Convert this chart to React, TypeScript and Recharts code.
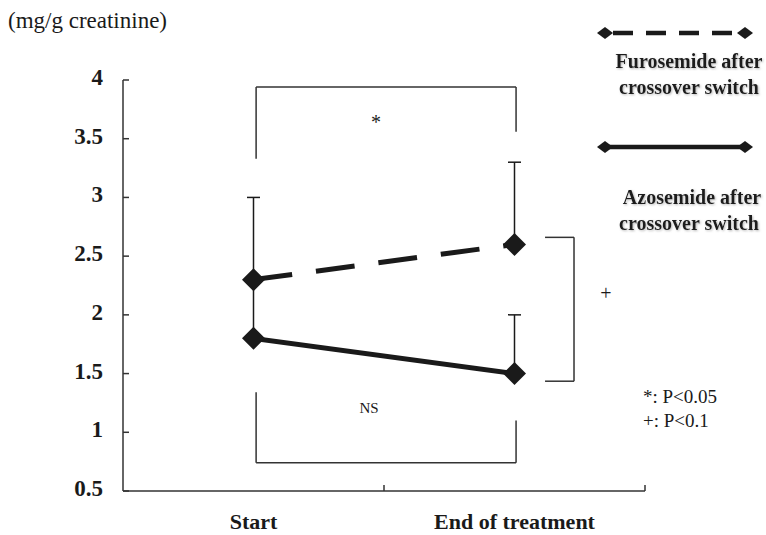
import React from 'react';
import { LineChart, Line, XAxis, YAxis, ErrorBar, ReferenceLine } from 'recharts';

// ---- data ----
const categories = ['Start', 'End of treatment'];
const furosemide = [2.3, 2.6];
const furosemideErr = [[0, 0.7], [0, 0.7]];
const azosemide = [1.8, 1.5];
const azosemideErr = [[0, 0.5], [0, 0.5]];
const yTicks = [0.5, 1, 1.5, 2, 2.5, 3, 3.5, 4];
const seriesNames = ['Furosemide after crossover switch', 'Azosemide after crossover switch'];
const unitLabel = '(mg/g creatinine)';
const pNotes = ['*: P<0.05', '+: P<0.1'];

// significance brackets in data units (x: category index space, 0..2)
const topBracket = [[0.51, 3.33], [0.51, 3.94], [1.506, 3.94], [1.506, 3.56]];
const bottomBracket = [[0.51, 1.34], [0.51, 0.74], [1.506, 0.74], [1.506, 1.1]];
const rightBracket = [[1.617, 2.66], [1.728, 2.66], [1.728, 1.435], [1.617, 1.435]];

// each category sits at the centre of its slot
const data = categories.map((c, i) => ({
  pos: i + 0.5,
  cat: c,
  furo: furosemide[i],
  furoErr: furosemideErr[i],
  azo: azosemide[i],
  azoErr: azosemideErr[i],
}));
const xTicks = data.map((d) => d.pos);

const W = 766;
const H = 535;
const X_H = 44;
const MARGIN = { top: 80, right: 121, bottom: 0, left: 0 };
const Y_W = 123;
const PLOT_W = W - MARGIN.left - MARGIN.right - Y_W;
const HALF_BAND = PLOT_W / categories.length / 2;
const SERIF = '"Liberation Serif", "Times New Roman", serif';
const INK = '#1a1a1a';
const AXIS = '#333';

const Diamond = (props: any) => {
  const { cx, cy } = props;
  if (cx == null || cy == null) return null;
  const r = 11.5;
  return (
    <polygon
      points={`${cx},${cy - r} ${cx + r},${cy} ${cx},${cy + r} ${cx - r},${cy}`}
      fill={INK}
    />
  );
};

const YTick = (props: any) => {
  const { x, y, payload } = props;
  return (
    <g>
      <line x1={x} x2={x + 6} y1={y} y2={y} stroke={AXIS} strokeWidth={1.5} />
      <text x={x - 20} y={y} dy={5} textAnchor="end" fontFamily={SERIF} fontWeight="bold" fontSize={23} fill={INK}>
        {payload.value}
      </text>
    </g>
  );
};

const XTick = (props: any) => {
  const { x, y, payload } = props;
  const label = categories[Math.round(payload.value - 0.5)];
  return (
    <g>
      <line x1={x + HALF_BAND} x2={x + HALF_BAND} y1={y} y2={y - 6} stroke={AXIS} strokeWidth={1.5} />
      <text x={x} y={y + 38} textAnchor="middle" fontFamily={SERIF} fontWeight="bold" fontSize={22} fill={INK}>
        {label}
      </text>
    </g>
  );
};

const bracketSegments = (pts: number[][], key: string) =>
  pts.slice(0, -1).map((p, i) => (
    <ReferenceLine
      key={`${key}-${i}`}
      segment={[{ x: p[0], y: p[1] }, { x: pts[i + 1][0], y: pts[i + 1][1] }]}
      stroke={AXIS}
      strokeWidth={1.5}
      ifOverflow="visible"
    />
  ));

const splitName = (n: string) => {
  const k = n.indexOf(' crossover');
  return [n.slice(0, k), n.slice(k + 1)];
};

const LegendDiamond = ({ cx, cy }: { cx: number; cy: number }) => (
  <polygon points={`${cx},${cy - 6} ${cx + 8},${cy} ${cx},${cy + 6} ${cx - 8},${cy}`} fill={INK} />
);

export default function App() {
  const furoLines = splitName(seriesNames[0]);
  const azoLines = splitName(seriesNames[1]);
  return (
    <div style={{ position: 'absolute', left: 0, top: 0, width: W, height: H, background: '#fff' }}>
      <LineChart width={W} height={H} data={data} margin={MARGIN}>
        <XAxis
          dataKey="pos"
          type="number"
          domain={[0, categories.length]}
          ticks={xTicks}
          interval={0}
          allowDataOverflow
          height={X_H}
          tickSize={0}
          tickMargin={0}
          tickLine={false}
          tick={<XTick />}
          axisLine={{ stroke: AXIS, strokeWidth: 1.5 }}
        />
        <YAxis
          type="number"
          domain={[0.5, 4]}
          ticks={yTicks}
          interval={0}
          width={Y_W}
          tickSize={0}
          tickMargin={0}
          tickLine={false}
          tick={<YTick />}
          axisLine={{ stroke: AXIS, strokeWidth: 1.5 }}
          allowDataOverflow
        />
        {bracketSegments(topBracket, 'top')}
        {bracketSegments(bottomBracket, 'bottom')}
        {bracketSegments(rightBracket, 'right')}
        <Line
          dataKey="furo"
          name={seriesNames[0]}
          stroke={INK}
          strokeWidth={5}
          strokeDasharray="39 24"
          dot={<Diamond />}
          isAnimationActive={false}
        >
          <ErrorBar dataKey="furoErr" direction="y" width={6.5} stroke={INK} strokeWidth={1.5} />
        </Line>
        <Line
          dataKey="azo"
          name={seriesNames[1]}
          stroke={INK}
          strokeWidth={5}
          dot={<Diamond />}
          isAnimationActive={false}
        >
          <ErrorBar dataKey="azoErr" direction="y" width={6.5} stroke={INK} strokeWidth={1.5} />
        </Line>
      </LineChart>
      <svg
        width={W}
        height={H}
        style={{ position: 'absolute', left: 0, top: 0, pointerEvents: 'none' }}
      >
        <defs>
          <filter id="soft" x="-10%" y="-30%" width="120%" height="160%">
            <feDropShadow dx="1" dy="1" stdDeviation="1" floodColor="#888" floodOpacity="0.6" />
          </filter>
        </defs>
        <text x={8} y={28} fontFamily={SERIF} fontSize={23} fill={INK}>{unitLabel}</text>
        <text x={376} y={129} textAnchor="middle" fontFamily={SERIF} fontSize={20} fill={INK}>*</text>
        <text x={369} y={413} textAnchor="middle" fontFamily={SERIF} fontSize={15} fill={INK}>NS</text>
        <text x={606} y={300} textAnchor="middle" fontFamily={SERIF} fontSize={20} fill={INK}>+</text>
        <text x={643} y={403} fontFamily={SERIF} fontSize={19} fill={INK}>{pNotes[0]}</text>
        <text x={643} y={427} fontFamily={SERIF} fontSize={19} fill={INK}>{pNotes[1]}</text>

        <line x1={605} x2={745} y1={33} y2={33} stroke={INK} strokeWidth={4.5} strokeDasharray="20 13" strokeDashoffset={-8} />
        <LegendDiamond cx={605} cy={33} />
        <LegendDiamond cx={745} cy={33} />
        <g filter="url(#soft)" fontFamily={SERIF} fontWeight="bold" fontSize={20} fill={INK} textAnchor="middle">
          <text x={689} y={68}>{furoLines[0]}</text>
          <text x={689} y={94}>{furoLines[1]}</text>
        </g>

        <line x1={605} x2={745} y1={147} y2={147} stroke={INK} strokeWidth={4.5} />
        <LegendDiamond cx={605} cy={147} />
        <LegendDiamond cx={745} cy={147} />
        <g filter="url(#soft)" fontFamily={SERIF} fontWeight="bold" fontSize={20} fill={INK} textAnchor="middle">
          <text x={692} y={204}>{azoLines[0]}</text>
          <text x={689} y={230}>{azoLines[1]}</text>
        </g>
      </svg>
    </div>
  );
}
